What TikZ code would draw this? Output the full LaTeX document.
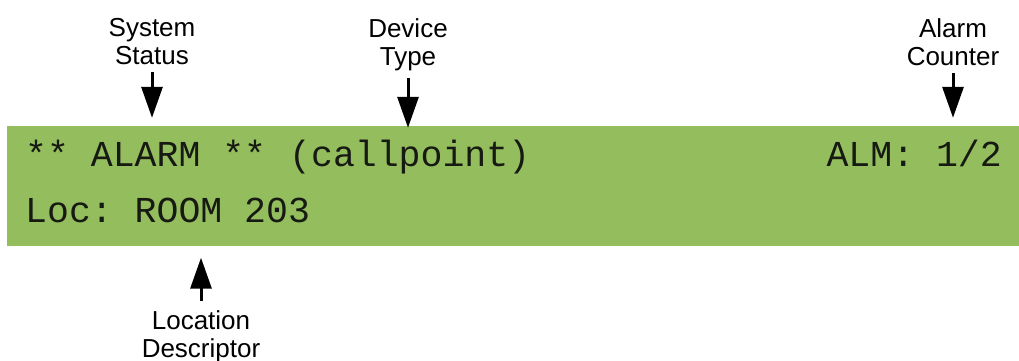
\documentclass[tikz,border=0pt]{standalone}
\usepackage{fontspec}
\setmainfont{Liberation Sans}
\setmonofont{Liberation Mono}
\usepackage{xcolor}
\usepackage{tikz}
\usetikzlibrary{arrows.meta}

\definecolor{lcdgreen}{RGB}{148,189,94}
\definecolor{lcdink}{RGB}{22,26,18}

\begin{document}
\begin{tikzpicture}[x=1pt, y=1pt,
    lcd/.style={fill=lcdgreen, draw=none, inner sep=0pt,
        minimum width=1012pt, minimum height=120.5pt},
    lcdtext/.style={inner sep=0pt, text=lcdink,
        font=\ttfamily\fontsize{36.5}{36.5}\selectfont},
    callout/.style={anchor=north, inner sep=0pt, align=center,
        font=\fontsize{26}{28.5}\selectfont},
    pointer/.style={line width=3pt, -{Triangle[width=21pt, length=31pt]},
        shorten <=7pt}]
    \useasboundingbox (0,0) rectangle (1019,361);

    % Display
    \node[lcd] (lcd) at (513,174.75) {};
    \node[lcdtext, anchor=base west] (status) at (25,194) {** ALARM **};
    \node[lcdtext, anchor=base west] (devtype) at (289,194) {(callpoint)};
    \node[lcdtext, anchor=base east] (counter) at (1002,194) {ALM: 1/2};
    \node[lcdtext, anchor=base west] (locline) at (25,138) {Loc: ROOM 203};

    % Callouts above
    \foreach \nm/\x/\txt/\gap in {sys/152/{System\\Status}/8,
                                  dev/408/{Device\\Type}/-2,
                                  cnt/953/{Alarm\\Counter}/8} {
        \node[callout] (\nm) at (\x,343) {\txt};
        \coordinate[yshift=\gap pt] (\nm tip) at (\nm.south |- lcd.north);
        \draw[pointer] (\nm) -- (\nm tip);
    }

    % Callout below
    \node[callout] (loc) at (201,51) {Location\\Descriptor};
    \coordinate[yshift=-11pt] (loctip) at (loc.north |- lcd.south);
    \draw[pointer, shorten <=9pt] (loc) -- (loctip);
\end{tikzpicture}
\end{document}
